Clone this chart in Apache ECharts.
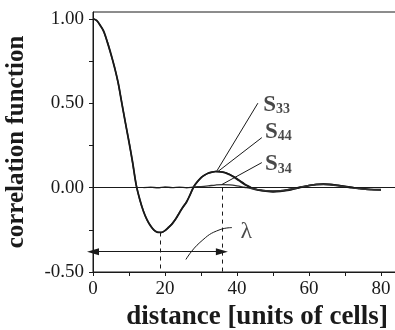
<!DOCTYPE html>
<html><head><meta charset="utf-8">
<script src="https://cdn.jsdelivr.net/npm/echarts@6/dist/echarts.min.js"></script>
<style>html,body{margin:0;padding:0;background:#fff}#c{width:395px;height:330px}</style>
</head><body><div id="c"></div>
<script>
const distance = [0,1,2,3,4,5,6,7,8,9,10,11,12,13,14,15,16,17,18,19,20,21,22,23,24,25,26,27,28,29,30,31,32,33,34,35,36,37,38,39,40,41,42,43,44,45,46,48,50,52,54,56,58,60,62,64,66,68,70,72,74,76,78,80];
const s33 = [1.00,0.99,0.96,0.925,0.86,0.79,0.71,0.62,0.50,0.385,0.27,0.15,0.015,-0.07,-0.14,-0.19,-0.228,-0.252,-0.265,-0.265,-0.255,-0.235,-0.215,-0.185,-0.15,-0.115,-0.085,-0.04,0.005,0.035,0.058,0.074,0.085,0.092,0.095,0.095,0.092,0.086,0.076,0.064,0.05,0.035,0.02,0.008,-0.003,-0.01,-0.015,-0.02,-0.022,-0.02,-0.014,-0.006,0.004,0.012,0.018,0.02,0.018,0.013,0.006,0.0,-0.005,-0.01,-0.012,-0.012];
const s44 = [1.00,0.99,0.962,0.922,0.862,0.788,0.712,0.618,0.502,0.383,0.272,0.148,0.017,-0.072,-0.138,-0.192,-0.226,-0.254,-0.264,-0.266,-0.254,-0.236,-0.213,-0.186,-0.148,-0.116,-0.083,-0.042,0.007,0.034,0.06,0.073,0.086,0.091,0.096,0.094,0.092,0.087,0.078,0.066,0.053,0.039,0.024,0.011,0.0,-0.008,-0.014,-0.022,-0.026,-0.024,-0.018,-0.008,0.002,0.012,0.02,0.022,0.02,0.014,0.008,0.002,-0.004,-0.008,-0.012,-0.014];
const s34Distance = [14,16,18,20,22,24,26,28,30,32,34,36,38,40,42,44,46,48,50,52,54,56,58,60,62,64,66,68,70,72,74,76,78,80];
const s34 = [0.0,0.003,-0.002,0.004,0.0,0.003,-0.001,0.004,0.006,0.01,0.015,0.018,0.016,0.01,0.002,-0.006,-0.012,-0.018,-0.02,-0.018,-0.012,-0.004,0.005,0.013,0.018,0.018,0.015,0.01,0.004,-0.002,-0.007,-0.011,-0.013,-0.013];
const xTickLabels = [0,20,40,60,80];
const xTicks = [0,10,20,30,40,50,60,70,80];
const yTickLabels = [-0.5,0,0.5,1.0];
const yTicks = [-0.5,-0.25,0,0.25,0.5,0.75,1.0];
const lambdaCurveX = [25.8,29.7,35.3,38.6];
const lambdaCurveY = [-0.426,-0.325,-0.249,-0.237];

const pair = (xs, ys) => xs.map((x, i) => [x, ys[i]]);
const ink = '#1a1a1a';
const serif = 'Liberation Serif';

const chart = echarts.init(document.getElementById('c'));
chart.setOption({
  animation: false,
  backgroundColor: '#fff',
  grid: {left: 93, top: 12, width: 306, height: 260, show: true, borderColor: ink, borderWidth: 1, outerBoundsMode: 'none', containLabel: false},
  xAxis: {
    type: 'value', min: 0, max: 85, interval: 10,
    axisLine: {onZero: false, lineStyle: {color: ink, width: 1}},
    axisTick: {length: 4, lineStyle: {color: ink}, customValues: xTicks},
    axisLabel: {customValues: xTickLabels, margin: 8, fontFamily: serif, fontSize: 19, color: ink,
      formatter: v => (v % 20 === 0 ? String(v) : '')},
    splitLine: {show: false},
    name: 'distance [units of cells]', nameLocation: 'middle', nameGap: 31,
    nameTextStyle: {fontFamily: serif, fontWeight: 'bold', fontSize: 27, color: ink, padding: [0, 0, 0, 22]}
  },
  yAxis: {
    type: 'value', min: -0.5, max: 1.04, interval: 0.25,
    axisLine: {lineStyle: {color: ink, width: 1}},
    axisTick: {length: 4, lineStyle: {color: ink}, customValues: yTicks},
    axisLabel: {customValues: yTickLabels, margin: 9, fontFamily: serif, fontSize: 19, color: ink,
      formatter: v => v.toFixed(2)},
    splitLine: {show: false},
    name: 'correlation function', nameLocation: 'middle', nameGap: 64,
    nameTextStyle: {fontFamily: serif, fontWeight: 'bold', fontSize: 25, color: ink}
  },
  series: [
    {
      name: 'S33', type: 'line', data: pair(distance, s33), symbol: 'none', smooth: 0.3,
      lineStyle: {color: ink, width: 1.8},
      markLine: {
        silent: true, symbol: 'none', label: {show: false},
        lineStyle: {color: ink, width: 1, type: 'solid'},
        data: [
          [{yAxis: 0, x: 93}, {yAxis: 0, x: 399}],
          [{coord: [34.3, 0.095]}, {coord: [45.8, 0.50]}],
          [{coord: [34.7, 0.095]}, {coord: [46.9, 0.296]}],
          [{coord: [35.8, 0.018]}, {coord: [46.9, 0.148]}],
          [{coord: [18.6, -0.266], lineStyle: {type: [4, 4]}}, {coord: [18.6, -0.5]}],
          [{coord: [35.8, 0.0], lineStyle: {type: [4, 4]}}, {coord: [35.8, -0.5]}],
          [{coord: [0, -0.38], symbol: 'triangle', symbolSize: [7, 12], symbolRotate: 90}, {coord: [35.8, -0.38], symbol: 'triangle', symbolSize: [7, 12], symbolRotate: -90}]
        ]
      }
    },
    {name: 'S44', type: 'line', data: pair(distance, s44), symbol: 'none', smooth: 0.3, lineStyle: {color: ink, width: 1.4}},
    {name: 'S34', type: 'line', data: pair(s34Distance, s34), symbol: 'none', smooth: 0.3, lineStyle: {color: '#333', width: 1.3}},
    {name: 'lambda', type: 'line', data: pair(lambdaCurveX, lambdaCurveY), symbol: 'none', smooth: true, lineStyle: {color: ink, width: 1}},
    {
      name: 'labels', type: 'scatter', symbolSize: 0, silent: true,
      data: [
        {value: [47.3, 0.49], name: 'S33', label: {formatter: '{s|S}{sub|33}'}},
        {value: [47.8, 0.33], name: 'S44', label: {formatter: '{s|S}{sub|44}'}},
        {value: [47.8, 0.14], name: 'S34', label: {formatter: '{s|S}{sub|34}'}},
        {value: [41.0, -0.26], name: 'lambda', label: {formatter: '{l|λ}'}}
      ],
      label: {
        show: true, position: 'right', distance: 0, color: ink,
        rich: {
          s: {fontFamily: serif, fontSize: 23, fontWeight: 'bold', color: ink, verticalAlign: 'bottom', lineHeight: 24},
          sub: {fontFamily: serif, fontSize: 14, fontWeight: 'bold', color: ink, verticalAlign: 'bottom', lineHeight: 24, padding: [8, 0, 0, 0]},
          l: {fontFamily: serif, fontSize: 24, color: ink}
        }
      }
    }
  ]
});
</script>
</body></html>
